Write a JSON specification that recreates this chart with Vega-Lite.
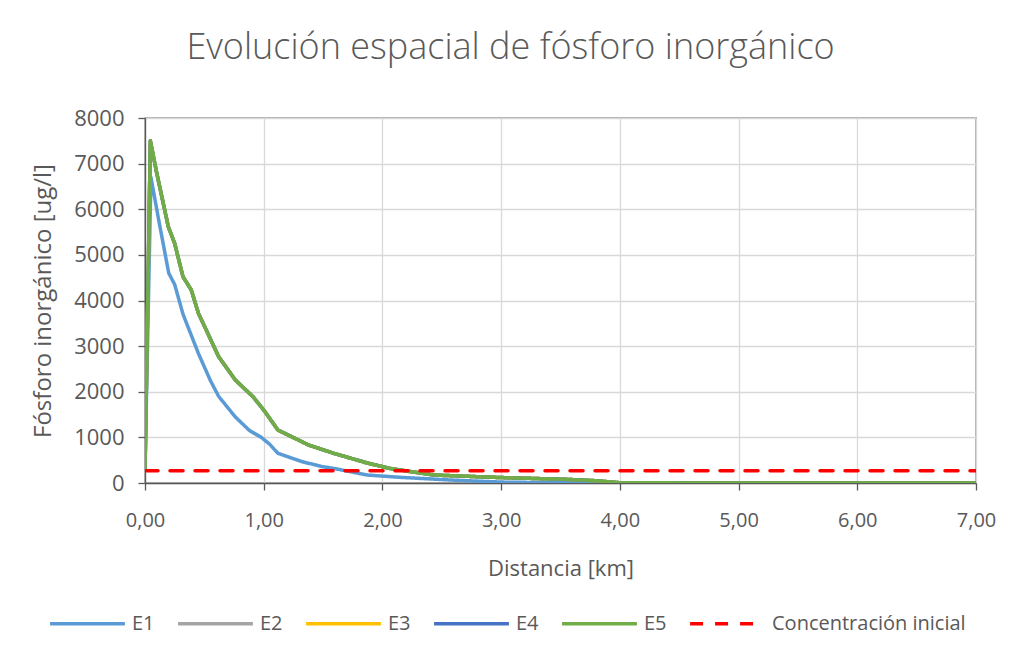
{
  "$schema": "https://vega.github.io/schema/vega-lite/v6.json",
  "width": 831,
  "height": 365,
  "autosize": {"type": "none"},
  "padding": {"left": 145, "top": 118, "right": 35, "bottom": 168},
  "background": "white",
  "title": {
    "text": "Evolución espacial de fósforo inorgánico",
    "font": "Open Sans",
    "fontSize": 36,
    "fontWeight": 300,
    "color": "#595959",
    "anchor": "middle",
    "dx": -50,
    "offset": 40
  },
  "data": {
    "values": [
      {"s": "E1", "x": 0, "y": 270},
      {"s": "E1", "x": 0.05, "y": 6700},
      {"s": "E1", "x": 0.12, "y": 5700},
      {"s": "E1", "x": 0.2, "y": 4600},
      {"s": "E1", "x": 0.25, "y": 4350},
      {"s": "E1", "x": 0.32, "y": 3700},
      {"s": "E1", "x": 0.45, "y": 2840},
      {"s": "E1", "x": 0.55, "y": 2250},
      {"s": "E1", "x": 0.62, "y": 1900},
      {"s": "E1", "x": 0.76, "y": 1450},
      {"s": "E1", "x": 0.88, "y": 1150},
      {"s": "E1", "x": 0.98, "y": 1000},
      {"s": "E1", "x": 1.05, "y": 850},
      {"s": "E1", "x": 1.12, "y": 650},
      {"s": "E1", "x": 1.32, "y": 470},
      {"s": "E1", "x": 1.49, "y": 360},
      {"s": "E1", "x": 1.59, "y": 320},
      {"s": "E1", "x": 1.87, "y": 175},
      {"s": "E1", "x": 2.15, "y": 124},
      {"s": "E1", "x": 2.57, "y": 66},
      {"s": "E1", "x": 3.0, "y": 20},
      {"s": "E1", "x": 3.5, "y": 5},
      {"s": "E1", "x": 4.0, "y": 0},
      {"s": "E1", "x": 5.0, "y": 0},
      {"s": "E1", "x": 6.0, "y": 0},
      {"s": "E1", "x": 7.0, "y": 0},

      {"s": "E2", "x": 0, "y": 270},
      {"s": "E2", "x": 0.045, "y": 7500},
      {"s": "E2", "x": 0.1, "y": 6780},
      {"s": "E2", "x": 0.196, "y": 5620},
      {"s": "E2", "x": 0.25, "y": 5250},
      {"s": "E2", "x": 0.32, "y": 4520},
      {"s": "E2", "x": 0.39, "y": 4230},
      {"s": "E2", "x": 0.45, "y": 3720},
      {"s": "E2", "x": 0.62, "y": 2770},
      {"s": "E2", "x": 0.76, "y": 2260},
      {"s": "E2", "x": 0.91, "y": 1890},
      {"s": "E2", "x": 1.0, "y": 1600},
      {"s": "E2", "x": 1.12, "y": 1160},
      {"s": "E2", "x": 1.31, "y": 920},
      {"s": "E2", "x": 1.38, "y": 830},
      {"s": "E2", "x": 1.59, "y": 650},
      {"s": "E2", "x": 1.87, "y": 440},
      {"s": "E2", "x": 2.06, "y": 320},
      {"s": "E2", "x": 2.43, "y": 175},
      {"s": "E2", "x": 2.99, "y": 120},
      {"s": "E2", "x": 3.55, "y": 80},
      {"s": "E2", "x": 3.8, "y": 50},
      {"s": "E2", "x": 4.0, "y": 5},
      {"s": "E2", "x": 5.0, "y": 0},
      {"s": "E2", "x": 6.0, "y": 0},
      {"s": "E2", "x": 7.0, "y": 0},

      {"s": "E3", "x": 0, "y": 270},
      {"s": "E3", "x": 0.045, "y": 7500},
      {"s": "E3", "x": 0.1, "y": 6780},
      {"s": "E3", "x": 0.196, "y": 5620},
      {"s": "E3", "x": 0.25, "y": 5250},
      {"s": "E3", "x": 0.32, "y": 4520},
      {"s": "E3", "x": 0.39, "y": 4230},
      {"s": "E3", "x": 0.45, "y": 3720},
      {"s": "E3", "x": 0.62, "y": 2770},
      {"s": "E3", "x": 0.76, "y": 2260},
      {"s": "E3", "x": 0.91, "y": 1890},
      {"s": "E3", "x": 1.0, "y": 1600},
      {"s": "E3", "x": 1.12, "y": 1160},
      {"s": "E3", "x": 1.31, "y": 920},
      {"s": "E3", "x": 1.38, "y": 830},
      {"s": "E3", "x": 1.59, "y": 650},
      {"s": "E3", "x": 1.87, "y": 440},
      {"s": "E3", "x": 2.06, "y": 320},
      {"s": "E3", "x": 2.43, "y": 175},
      {"s": "E3", "x": 2.99, "y": 120},
      {"s": "E3", "x": 3.55, "y": 80},
      {"s": "E3", "x": 3.8, "y": 50},
      {"s": "E3", "x": 4.0, "y": 5},
      {"s": "E3", "x": 5.0, "y": 0},
      {"s": "E3", "x": 6.0, "y": 0},
      {"s": "E3", "x": 7.0, "y": 0},

      {"s": "E4", "x": 0, "y": 270},
      {"s": "E4", "x": 0.045, "y": 7500},
      {"s": "E4", "x": 0.1, "y": 6780},
      {"s": "E4", "x": 0.196, "y": 5620},
      {"s": "E4", "x": 0.25, "y": 5250},
      {"s": "E4", "x": 0.32, "y": 4520},
      {"s": "E4", "x": 0.39, "y": 4230},
      {"s": "E4", "x": 0.45, "y": 3720},
      {"s": "E4", "x": 0.62, "y": 2770},
      {"s": "E4", "x": 0.76, "y": 2260},
      {"s": "E4", "x": 0.91, "y": 1890},
      {"s": "E4", "x": 1.0, "y": 1600},
      {"s": "E4", "x": 1.12, "y": 1160},
      {"s": "E4", "x": 1.31, "y": 920},
      {"s": "E4", "x": 1.38, "y": 830},
      {"s": "E4", "x": 1.59, "y": 650},
      {"s": "E4", "x": 1.87, "y": 440},
      {"s": "E4", "x": 2.06, "y": 320},
      {"s": "E4", "x": 2.43, "y": 175},
      {"s": "E4", "x": 2.99, "y": 120},
      {"s": "E4", "x": 3.55, "y": 80},
      {"s": "E4", "x": 3.8, "y": 50},
      {"s": "E4", "x": 4.0, "y": 5},
      {"s": "E4", "x": 5.0, "y": 0},
      {"s": "E4", "x": 6.0, "y": 0},
      {"s": "E4", "x": 7.0, "y": 0},

      {"s": "E5", "x": 0, "y": 270},
      {"s": "E5", "x": 0.045, "y": 7500},
      {"s": "E5", "x": 0.1, "y": 6780},
      {"s": "E5", "x": 0.196, "y": 5620},
      {"s": "E5", "x": 0.25, "y": 5250},
      {"s": "E5", "x": 0.32, "y": 4520},
      {"s": "E5", "x": 0.39, "y": 4230},
      {"s": "E5", "x": 0.45, "y": 3720},
      {"s": "E5", "x": 0.62, "y": 2770},
      {"s": "E5", "x": 0.76, "y": 2260},
      {"s": "E5", "x": 0.91, "y": 1890},
      {"s": "E5", "x": 1.0, "y": 1600},
      {"s": "E5", "x": 1.12, "y": 1160},
      {"s": "E5", "x": 1.31, "y": 920},
      {"s": "E5", "x": 1.38, "y": 830},
      {"s": "E5", "x": 1.59, "y": 650},
      {"s": "E5", "x": 1.87, "y": 440},
      {"s": "E5", "x": 2.06, "y": 320},
      {"s": "E5", "x": 2.43, "y": 175},
      {"s": "E5", "x": 2.99, "y": 120},
      {"s": "E5", "x": 3.55, "y": 80},
      {"s": "E5", "x": 3.8, "y": 50},
      {"s": "E5", "x": 4.0, "y": 5},
      {"s": "E5", "x": 5.0, "y": 0},
      {"s": "E5", "x": 6.0, "y": 0},
      {"s": "E5", "x": 7.0, "y": 0},

      {"s": "Concentración inicial", "x": 0, "y": 270},
      {"s": "Concentración inicial", "x": 7.0, "y": 270}
    ]
  },
  "mark": {"type": "line", "strokeCap": "round", "strokeJoin": "round", "clip": true},
  "encoding": {
    "x": {
      "field": "x",
      "type": "quantitative",
      "scale": {"domain": [0, 7], "nice": false},
      "axis": {
        "values": [0, 1, 2, 3, 4, 5, 6, 7],
        "labelExpr": "replace(format(datum.value, '.2f'), '.', ',')",
        "title": "Distancia [km]",
        "titlePadding": 28,
        "labelPadding": 20
      }
    },
    "y": {
      "field": "y",
      "type": "quantitative",
      "scale": {"domain": [0, 8000], "nice": false},
      "axis": {
        "values": [0, 1000, 2000, 3000, 4000, 5000, 6000, 7000, 8000],
        "format": "d",
        "title": "Fósforo inorgánico [ug/l]",
        "titlePadding": 18,
        "labelPadding": 14
      }
    },
    "color": {
      "field": "s",
      "type": "nominal",
      "scale": {
        "domain": ["E1", "E2", "E3", "E4", "E5", "Concentración inicial"],
        "range": ["#5B9BD5", "#A5A5A5", "#FFC000", "#4472C4", "#70AD47", "#FF0000"]
      },
      "legend": {
        "title": null,
        "orient": "none",
        "direction": "horizontal",
        "legendX": -97,
        "legendY": 466,
        "symbolType": "stroke",
        "symbolSize": 5600,
        "symbolStrokeWidth": 4,
        "labelOffset": 5,
        "columnPadding": 16,
        "labelLimit": 400,
        "labelFont": "Open Sans",
        "labelFontSize": 20,
        "labelColor": "#595959"
      }
    },
    "strokeDash": {
      "field": "s",
      "type": "nominal",
      "scale": {
        "domain": ["E1", "E2", "E3", "E4", "E5", "Concentración inicial"],
        "range": [[1, 0], [1, 0], [1, 0], [1, 0], [1, 0], [13, 12]]
      },
      "legend": null
    },
    "strokeWidth": {
      "field": "s",
      "type": "nominal",
      "scale": {
        "domain": ["E1", "E2", "E3", "E4", "E5", "Concentración inicial"],
        "range": [3.5, 3.5, 3.5, 3.5, 4.2, 6]
      },
      "legend": null
    },
    "order": {"field": "s", "type": "nominal"}
  },
  "config": {
    "font": "Open Sans",
    "view": {"stroke": "#595959", "strokeWidth": 1.3},
    "axis": {
      "labelFont": "Open Sans",
      "labelFontSize": 22,
      "labelColor": "#595959",
      "labelFlush": false,
      "titleFont": "Open Sans",
      "titleFontSize": 24,
      "titleFontWeight": "normal",
      "titleColor": "#595959",
      "gridColor": "#D9D9D9",
      "gridWidth": 1.3,
      "domainColor": "#595959",
      "domainWidth": 1.3,
      "tickColor": "#595959",
      "tickWidth": 1.3,
      "tickSize": 7
    },
    "axisX": {"titleFontSize": 22, "labelFontSize": 20}
  }
}
